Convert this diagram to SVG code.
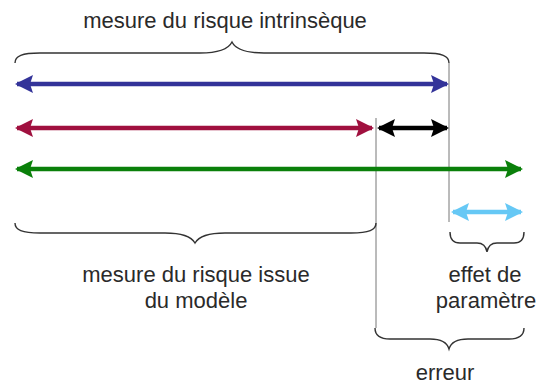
<svg xmlns="http://www.w3.org/2000/svg" width="537" height="387" viewBox="0 0 537 387">
<style>
.lbl{font-family:"Liberation Sans",Arial,sans-serif;font-size:22px;fill:#2a2a2a;text-anchor:middle}
.brace{fill:none;stroke:#333;stroke-width:1.4}
.guide{stroke:#777;stroke-width:1;fill:none}
.arr{stroke-width:4.5;fill:none}
</style>
<defs>
<marker id="hBlue" viewBox="0 0 18 18" refX="16" refY="9" markerWidth="18" markerHeight="18" markerUnits="userSpaceOnUse" orient="auto-start-reverse"><path d="M0,0 L18,9 L0,18 L3,9 Z" fill="#333399"/></marker>
<marker id="hRed" viewBox="0 0 18 18" refX="16" refY="9" markerWidth="18" markerHeight="18" markerUnits="userSpaceOnUse" orient="auto-start-reverse"><path d="M0,0 L18,9 L0,18 L3,9 Z" fill="#a0103f"/></marker>
<marker id="hBlack" viewBox="0 0 18 18" refX="16" refY="9" markerWidth="18" markerHeight="18" markerUnits="userSpaceOnUse" orient="auto-start-reverse"><path d="M0,0 L18,9 L0,18 L3,9 Z" fill="#000"/></marker>
<marker id="hGreen" viewBox="0 0 18 18" refX="16" refY="9" markerWidth="18" markerHeight="18" markerUnits="userSpaceOnUse" orient="auto-start-reverse"><path d="M0,0 L18,9 L0,18 L3,9 Z" fill="#0a800a"/></marker>
<marker id="hLight" viewBox="0 0 18 18" refX="16" refY="9" markerWidth="18" markerHeight="18" markerUnits="userSpaceOnUse" orient="auto-start-reverse"><path d="M0,0 L18,9 L0,18 L3,9 Z" fill="#66c8f5"/></marker>
</defs>
<rect width="537" height="387" fill="#fff"/>
<g id="guides">
<line class="guide" x1="449" y1="63" x2="449" y2="222"/>
<line class="guide" x1="376" y1="118" x2="376" y2="328"/>
</g>
<g id="connectors">
<line class="arr" x1="17" y1="84" x2="447" y2="84" stroke="#333399" marker-start="url(#hBlue)" marker-end="url(#hBlue)"/>
<line class="arr" x1="17" y1="128" x2="372" y2="128" stroke="#a0103f" marker-start="url(#hRed)" marker-end="url(#hRed)"/>
<line class="arr" x1="379" y1="128" x2="447" y2="128" stroke="#000" marker-start="url(#hBlack)" marker-end="url(#hBlack)"/>
<line class="arr" x1="17" y1="169" x2="521" y2="169" stroke="#0a800a" marker-start="url(#hGreen)" marker-end="url(#hGreen)"/>
<line class="arr" x1="453" y1="212" x2="521" y2="212" stroke="#66c8f5" marker-start="url(#hLight)" marker-end="url(#hLight)"/>
</g>
<g id="brace-intrinseque">
<path class="brace" d="M15,63 C15,56 22,53 40,53 L200,53 C215,53 228,50 232,42 C236,50 249,53 264,53 L424,53 C442,53 449,56 449,63"/>
<text class="lbl" x="225" y="28">mesure du risque intrinsèque</text>
</g>
<g id="brace-modele">
<path class="brace" d="M15,223 C15,230 22,233 40,233 L165,233 C180,233 191,236 195,243 C199,236 210,233 225,233 L351,233 C369,233 376,230 376,223"/>
<text class="lbl" x="196" y="282">mesure du risque issue</text>
<text class="lbl" x="196" y="308">du modèle</text>
</g>
<g id="brace-parametre">
<path class="brace" d="M450,232 C450,239 453,243 460,243 L477,243 C482,243 486,246 487,252 C488,246 492,243 497,243 L514,243 C521,243 524,239 524,232"/>
<text class="lbl" x="485" y="282">effet de</text>
<text class="lbl" x="486" y="308">paramètre</text>
</g>
<g id="brace-erreur">
<path class="brace" d="M375,328 C375,335 380,339 390,339 L430,339 C440,339 447,342 449,349 C451,342 458,339 468,339 L509,339 C519,339 524,335 524,328"/>
<text class="lbl" x="445" y="380">erreur</text>
</g>
</svg>
